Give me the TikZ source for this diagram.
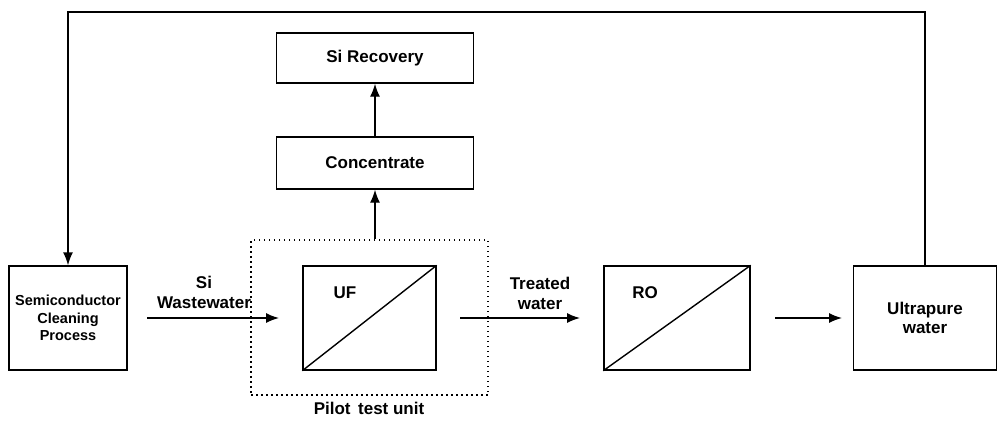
\documentclass[tikz,border=0pt]{standalone}
\usepackage{fontspec}
\setmainfont{Liberation Sans}
\usetikzlibrary{arrows.meta}
\begin{document}
\begin{tikzpicture}[x=1pt,y=-1pt,
  box/.style={draw,line width=1.4pt,font=\fontsize{17}{19}\selectfont\bfseries,align=center,inner sep=0pt},
  lbl/.style={font=\fontsize{17}{20}\selectfont\bfseries,align=center,inner sep=0pt},
  flow/.style={line width=1.4pt,-{Latex[length=13pt,width=10pt]}},
  plain/.style={line width=1.4pt}]
\useasboundingbox (0,0) rectangle (998,421);
% boxes
\node[box,minimum width=118pt,minimum height=104pt,font=\fontsize{14.5}{17.5}\selectfont\bfseries] (semi) at (68,318) {Semiconductor\\Cleaning\\Process};
\node[box,minimum width=197pt,minimum height=50pt] (rec) at (375,58) {Si Recovery};
\node[box,minimum width=197pt,minimum height=52pt] (conc) at (375,163) {Concentrate};
\node[draw,line width=1.2pt,dash pattern=on 1.5pt off 3.5pt,minimum width=237pt,minimum height=155pt,inner sep=0pt] (pilot) at (369.5,317.5) {};
\node[box,minimum width=133pt,minimum height=104pt] (uf) at (369.5,318) {};
\node[box,minimum width=146pt,minimum height=104pt] (ro) at (677,318) {};
\node[box,minimum width=143pt,minimum height=104pt] (upw) at (925,318) {Ultrapure\\water};
\draw[plain] (uf.south west) -- (uf.north east);
\draw[plain] (ro.south west) -- (ro.north east);
\node[lbl] (uflbl) at (345,293) {UF};
\node[lbl] (rolbl) at (645,293) {RO};
% flow arrows
\coordinate (a1s) at (147,318);
\coordinate (a1e) at (279,318);
\coordinate (a2s) at (460,318);
\coordinate (a2e) at (580,318);
\coordinate (a3s) at (775,318);
\coordinate (a3e) at (842,318);
\draw[flow] (a1s) -- (a1e);
\draw[flow] (a2s) -- (a2e);
\draw[flow] (a3s) -- (a3e);
\node[lbl] (siw) at (204,292) {Si\\Wastewater};
\node[lbl] (tw) at (540,293) {Treated\\water};
\node[lbl] (plbl) at (369,408) {Pilot\, test unit};
% vertical arrows
\draw[flow] (conc.south |- pilot.north) -- (conc.south);
\draw[flow] (conc.north) -- (rec.south);
% recycle loop
\coordinate (tl) at (68,12);
\draw[flow] (upw.north) |- (tl) -- (semi.north);
\end{tikzpicture}
\end{document}
